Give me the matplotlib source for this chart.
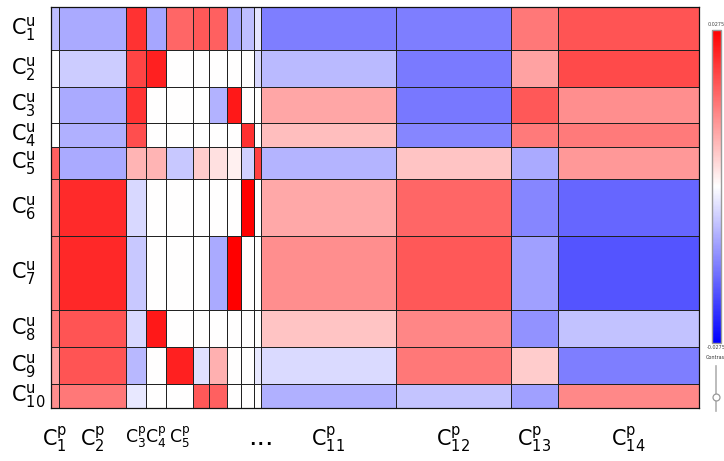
import numpy as np
import matplotlib
matplotlib.use('Agg')
import matplotlib.pyplot as plt
import matplotlib.transforms as mtransforms
from matplotlib.lines import Line2D

plt.rcParams['font.family'] = 'DejaVu Sans'
plt.rcParams['mathtext.fontset'] = 'dejavusans'

VMAX = 0.0275

# cluster sizes (drawn as column widths / row heights)
col_sizes = [8.6, 66.7, 19.7, 20.3, 26.6, 15.9, 18.2, 14.3, 13.3, 6.7,
             134.7, 115.0, 47.6, 140.7]
row_sizes = [42.7, 37.3, 35.7, 24.0, 32.0, 57.3, 73.7, 37.0, 37.3, 24.0]

row_labels = [r'$\mathrm{C}^{\mathrm{u}}_{\mathrm{%d}}$' % i
              for i in range(1, 11)]
col_nums = [1, 2, 3, 4, 5, 11, 12, 13, 14]
col_labels = [r'$\mathrm{C}^{\mathrm{p}}_{\mathrm{%d}}$' % i for i in col_nums]
labelled_cols = [n - 1 for n in col_nums]

# one list per user cluster, columns C1^p .. C14^p
row1 = [-0.0069, -0.0091, 0.0220, -0.0096, 0.0165, 0.0179, 0.0171, -0.0096,
        -0.0069, -0.0028, -0.0138, -0.0138, 0.0146, 0.0184]
row2 = [0, -0.0055, 0.0201, 0.0239, 0, 0, 0, 0, 0, -0.0041, -0.0074,
        -0.0143, 0.0099, 0.0195]
row3 = [0, -0.0091, 0.0220, 0, 0, 0, -0.0083, 0.0248, 0, 0, 0.0096,
        -0.0146, 0.0179, 0.0121]
row4 = [0, -0.0085, 0.0190, 0, 0, 0, 0, 0, 0.0223, 0, 0.0069, -0.0129,
        0.0143, 0.0143]
row5 = [0.0171, -0.0091, 0.0080, 0.0080, -0.0060, 0.0055, 0.0033, 0.0017,
        -0.0050, 0.0206, -0.0080, 0.0063, -0.0091, 0.0110]
row6 = [0.0143, 0.0228, -0.0041, 0, 0, 0, 0, 0, 0.0275, 0, 0.0094, 0.0165,
        -0.0129, -0.0165]
row7 = [0.0143, 0.0231, -0.0060, 0, 0, 0, -0.0091, 0.0275, 0, 0, 0.0121,
        0.0179, -0.0102, -0.0184]
row8 = [0.0138, 0.0184, -0.0041, 0.0248, 0, 0, 0, 0, 0, 0, 0.0063, 0.0129,
        -0.0118, -0.0066]
row9 = [0.0102, 0.0184, -0.0077, 0, 0.0239, -0.0033, 0.0085, 0, 0, -0.0025,
        -0.0039, 0.0146, 0.0055, -0.0138]
row10 = [0.0121, 0.0146, -0.0025, 0, 0, 0.0179, 0.0171, 0, 0, 0, -0.0085,
         -0.0063, -0.0102, 0.0127]

values = np.array([row1, row2, row3, row4, row5, row6, row7, row8, row9,
                   row10])

W, H = 724, 461
fig = plt.figure(figsize=(W / 100, H / 100), dpi=100)
ax = fig.add_axes([50.7 / W, 1 - 408.3 / H, (699 - 50.7) / W, 401 / H])

x_edges = np.concatenate([[0], np.cumsum(col_sizes)])
y_edges = np.concatenate([[0], np.cumsum(row_sizes)])
mesh = ax.pcolormesh(x_edges, y_edges, values, cmap='bwr',
                     vmin=-VMAX, vmax=VMAX,
                     edgecolors='#222222', linewidth=0.6)
ax.set_xlim(x_edges[0], x_edges[-1])
ax.set_ylim(y_edges[-1], y_edges[0])
for s in ax.spines.values():
    s.set_linewidth(0.9)
    s.set_color('#111111')

# column labels along the bottom
x_centers = 0.5 * (x_edges[:-1] + x_edges[1:])
ticks = [x_centers[i] for i in labelled_cols]
ax.set_xticks(ticks + [x_edges[10]])
ax.set_xticklabels(col_labels + ['...'], fontsize=15)
ax.tick_params(axis='x', length=0, pad=12)
ax.set_yticks([])
tlabels = ax.get_xticklabels()
for t in tlabels[2:5]:
    t.set_fontsize(12.5)   # narrow columns, packed tight
tlabels[-1].set_fontsize(19)

# row labels, left aligned near the figure edge
y_centers = 0.5 * (y_edges[:-1] + y_edges[1:])
trans = mtransforms.blended_transform_factory(fig.transFigure, ax.transData)
for yc, lab in zip(y_centers, row_labels):
    ax.text(11 / W, yc, lab, transform=trans, ha='left', va='center',
            fontsize=15, clip_on=False)

# colour bar on the right
cax = fig.add_axes([711.7 / W, 1 - 343 / H, 9 / W, 313 / H])
cb = fig.colorbar(mesh, cax=cax)
cb.set_ticks([])
cb.outline.set_edgecolor('#9a9a9a')
cb.outline.set_linewidth(1.0)
fig.text(716 / W, 1 - 25 / H, '0.0275', ha='center', va='center',
         fontsize=3.5, color='#444444')
fig.text(716 / W, 1 - 347.5 / H, '-0.0275', ha='center', va='center',
         fontsize=3.5, color='#444444')
fig.text(706 / W, 1 - 357 / H, 'Contras', ha='left', va='center',
         fontsize=3.5, color='#333333')

# contrast slider
fig.add_artist(Line2D([715.7 / W] * 2, [1 - 366 / H, 1 - 411 / H],
                      color='#b0b0b0', lw=1.2, transform=fig.transFigure))
fig.add_artist(Line2D([715.7 / W], [1 - 397 / H], marker='o', markersize=5,
                      mfc='white', mec='#999999', mew=0.9,
                      transform=fig.transFigure))

fig.savefig('out.png', dpi=100, facecolor='white')
